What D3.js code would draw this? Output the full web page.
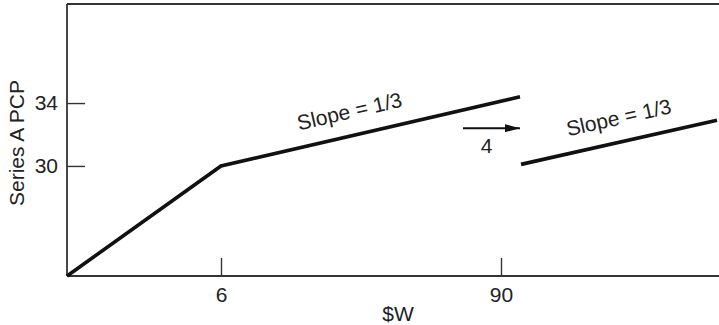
<!DOCTYPE html>
<html>
<head>
<meta charset="utf-8">
<script src="https://cdn.jsdelivr.net/npm/d3@7"></script>
<style>
  html, body { margin: 0; padding: 0; background: #fff; }
  text { font-family: "Liberation Sans", Arial, Helvetica, sans-serif; fill: #222; }
</style>
</head>
<body>
<svg id="chart" width="719" height="325"></svg>
<script>
// ---- data ----
const xTicks = [6, 90];
const yTicks = [30, 34];
const xLabel = "$W";
const yLabel = "Series A PCP";
// piecewise schedule (schematic)
const segment1 = [[0, 23.0], [6, 30], [95.7, 34.4]];
const segment2 = [[96.0, 30.1], [154.8, 32.9]];
const arrowFrom = [78.6, 32.4];
const arrowTo = [95.7, 32.4];
const arrowLabel = "4";
const slopeLabels = [
  { text: "Slope = 1/3", seg: 0, x: 46.2 },
  { text: "Slope = 1/3", seg: 1, x: 126.9 }
];

// ---- layout ----
const svg = d3.select("#chart");
const margin = { left: 67, top: 4, right: 0, bottom: 49 };
const W = 719 - margin.left - margin.right;
const H = 325 - margin.top - margin.bottom;
const g = svg.append("g").attr("transform", `translate(${margin.left},${margin.top})`);

const x = d3.scaleLinear().domain([0, 6, 90]).range([0, 154, 434]);
const y = d3.scaleLinear().domain([23, 40.3]).range([H, 0]);

const frameColor = "#333";
const fontSize = 21;

// top border
g.append("line").attr("x1", 0).attr("x2", W).attr("y1", 0).attr("y2", 0)
  .attr("stroke", frameColor).attr("stroke-width", 1.8);

const xAxis = g.append("g").attr("transform", `translate(0,${H})`)
  .call(d3.axisBottom(x).tickValues(xTicks).tickSizeInner(-18).tickSizeOuter(0).tickPadding(11).tickFormat(d3.format("d")));
const yAxis = g.append("g")
  .call(d3.axisLeft(y).tickValues(yTicks).tickSizeInner(-18).tickSizeOuter(0).tickPadding(9).tickFormat(d3.format("d")));
[xAxis, yAxis].forEach(a => {
  a.select(".domain").attr("stroke", frameColor).attr("stroke-width", 1.8);
  a.selectAll(".tick line").attr("stroke", frameColor).attr("stroke-width", 1.4);
  a.selectAll(".tick text").attr("font-size", fontSize).attr("fill", "#222")
    .attr("font-family", '"Liberation Sans", Arial, sans-serif');
});
xAxis.select(".domain").attr("d", `M0,0H${W}`);
yAxis.select(".domain").attr("d", `M0,${H}V0`);

// axis titles
svg.append("text").attr("x", margin.left + 331).attr("y", 321)
  .attr("text-anchor", "middle").attr("font-size", fontSize).text(xLabel);
svg.append("text").attr("transform", `translate(24,143) rotate(-90)`)
  .attr("text-anchor", "middle").attr("font-size", fontSize).text(yLabel);

// lines
const line = d3.line().x(d => x(d[0])).y(d => y(d[1]));
const segs = [segment1, segment2];
segs.forEach(s => {
  g.append("path").attr("d", line(s)).attr("fill", "none")
    .attr("stroke", "#111").attr("stroke-width", 3.6).attr("stroke-linejoin", "miter");
});

// arrow
svg.append("defs").append("marker").attr("id", "ah")
  .attr("viewBox", "0 0 15 8").attr("refX", 15).attr("refY", 4)
  .attr("markerWidth", 15).attr("markerHeight", 8).attr("markerUnits", "userSpaceOnUse")
  .attr("orient", "auto")
  .append("path").attr("d", "M0,0L15,4L0,8Z").attr("fill", "#111");
g.append("line")
  .attr("x1", x(arrowFrom[0])).attr("y1", y(arrowFrom[1]))
  .attr("x2", x(arrowTo[0])).attr("y2", y(arrowTo[1]))
  .attr("stroke", "#111").attr("stroke-width", 2).attr("marker-end", "url(#ah)");
g.append("text").attr("x", x((arrowFrom[0] + arrowTo[0]) / 2) - 5).attr("y", y(arrowFrom[1]) + 25)
  .attr("text-anchor", "middle").attr("font-size", fontSize).text(arrowLabel);

// slope labels rotated along the line
slopeLabels.forEach(l => {
  const s = segs[l.seg];
  const a = s[s.length - 2], b = s[s.length - 1];
  const px1 = x(a[0]), py1 = y(a[1]), px2 = x(b[0]), py2 = y(b[1]);
  const ang = Math.atan2(py2 - py1, px2 - px1) * 180 / Math.PI;
  const t = (l.x - a[0]) / (b[0] - a[0]);
  const yy = a[1] + t * (b[1] - a[1]);
  const cx = x(l.x), cy = y(yy);
  g.append("text")
    .attr("transform", `translate(${cx},${cy}) rotate(${ang}) translate(0,-17)`)
    .attr("text-anchor", "middle").attr("font-size", fontSize).text(l.text);
});
</script>
</body>
</html>
